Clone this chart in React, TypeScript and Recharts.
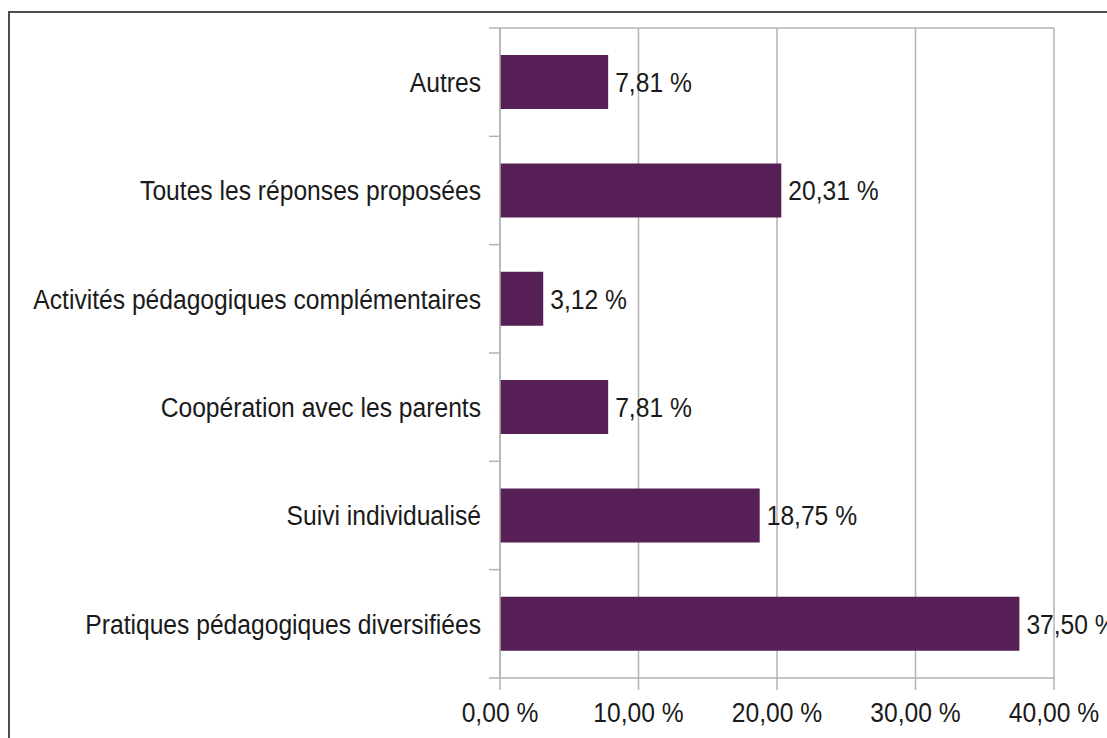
import React from "react"
import {
  BarChart,
  Bar,
  XAxis,
  YAxis,
  CartesianGrid,
  LabelList,
  ReferenceLine,
} from "recharts"

const categories = [
  "Autres",
  "Toutes les réponses proposées",
  "Activités pédagogiques complémentaires",
  "Coopération avec les parents",
  "Suivi individualisé",
  "Pratiques pédagogiques diversifiées",
]
const shares = [7.81, 20.31, 3.12, 7.81, 18.75, 37.5]
const xTicks = [0, 10, 20, 30, 40]

const data = categories.map((name, i) => ({ name, value: shares[i] }))

const FONT = "'Liberation Sans Narrow', 'Arial Narrow', 'Liberation Sans', Arial, sans-serif"
const TEXT = "#1a1a1a"
const GRID = "#b3b3b3"
const BAR = "#561f55"
const SQUEEZE = 0.88

const W = 1107
const H = 738
const M = { top: 28, right: 53, bottom: 0, left: 0 }
const X_AXIS_H = 60
const Y_TICK_SIZE = 6
const Y_TICK_MARGIN = 13
const BOUNDARY_TICK = 11
const BAND = (H - M.top - M.bottom - X_AXIS_H) / categories.length

const pct = (v: number) => `${v.toFixed(2).replace(".", ",")} %`

// the narrow font isn't installed, so squeeze regular text horizontally
function NarrowText({ x, y, anchor, dy, children }: any) {
  return (
    <g transform={`translate(${x},${y}) scale(${SQUEEZE},1)`}>
      <text
        x={0}
        y={0}
        dy={dy}
        textAnchor={anchor}
        fill={TEXT}
        fontSize={28}
        fontFamily={FONT}
      >
        {children}
      </text>
    </g>
  )
}

const XTick = ({ x, y, payload }: any) => (
  <NarrowText x={x} y={y} anchor="middle" dy="0.71em">
    {pct(payload.value)}
  </NarrowText>
)

// category label plus tick marks on the band boundaries
const YTick = ({ x, y, payload, index }: any) => {
  const axisX = x + Y_TICK_SIZE + Y_TICK_MARGIN
  const last = index === categories.length - 1
  return (
    <g>
      <line
        x1={axisX - BOUNDARY_TICK}
        x2={axisX}
        y1={y - BAND / 2}
        y2={y - BAND / 2}
        stroke={GRID}
        strokeWidth={1.5}
      />
      {last && (
        <line
          x1={axisX - BOUNDARY_TICK}
          x2={axisX}
          y1={y + BAND / 2}
          y2={y + BAND / 2}
          stroke={GRID}
          strokeWidth={1.5}
        />
      )}
      <NarrowText x={x} y={y} anchor="end" dy="0.355em">
        {payload.value}
      </NarrowText>
    </g>
  )
}

const ValueLabel = ({ x, y, width, height, value }: any) => (
  <NarrowText x={x + width + 7} y={y + height / 2} anchor="start" dy="0.355em">
    {pct(Number(value))}
  </NarrowText>
)

export default function App() {
  return (
    <div
      style={{
        position: "absolute",
        left: 0,
        top: 0,
        width: W,
        height: H,
        background: "#fff",
        overflow: "hidden",
      }}
    >
      <div
        style={{
          position: "absolute",
          left: 8,
          top: 11,
          width: 1200,
          height: 800,
          borderTop: "2px solid #4d4d4d",
          borderLeft: "2px solid #4d4d4d",
        }}
      />
      <div style={{ position: "absolute", left: 0, top: 0 }}>
        <BarChart
          width={W}
          height={H}
          data={data}
          layout="vertical"
          margin={M}
          barCategoryGap="25%"
        >
          <CartesianGrid horizontal={false} stroke={GRID} strokeWidth={1.5} />
          <XAxis
            type="number"
            domain={[0, 40]}
            ticks={xTicks}
            height={X_AXIS_H}
            stroke={GRID}
            strokeWidth={1.5}
            tickSize={12}
            tickMargin={12}
            tick={<XTick />}
            interval={0}
          />
          <YAxis
            type="category"
            dataKey="name"
            width={500}
            tickLine={false}
            tickSize={Y_TICK_SIZE}
            tickMargin={Y_TICK_MARGIN}
            stroke={GRID}
            strokeWidth={1.5}
            tick={<YTick />}
            interval={0}
          />
          <ReferenceLine
            y={categories[0]}
            position="start"
            stroke={GRID}
            strokeWidth={1.5}
          />
          <Bar dataKey="value" fill={BAR} isAnimationActive={false}>
            <LabelList dataKey="value" content={<ValueLabel />} />
          </Bar>
        </BarChart>
      </div>
    </div>
  )
}
